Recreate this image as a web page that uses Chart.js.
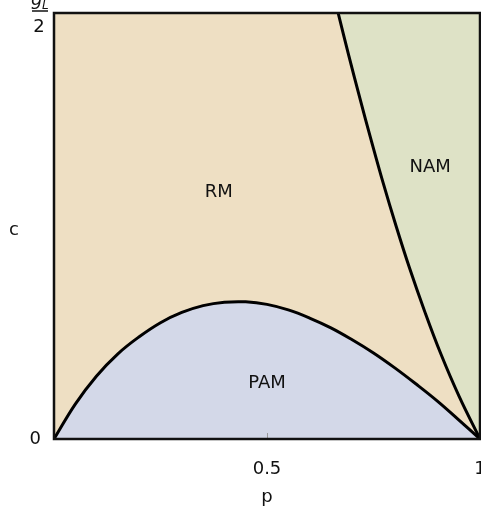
<!DOCTYPE html>
<html>
<head>
<meta charset="utf-8">
<script src="https://cdn.jsdelivr.net/npm/chart.js@4.4.0/dist/chart.umd.min.js"></script>
<style>
  html, body { margin: 0; padding: 0; background: #fff; }
  .chart-wrap { width: 481px; height: 518px; }
</style>
</head>
<body>
<div class="chart-wrap"><canvas id="chart"></canvas></div>
<script>
// boundary PAM / RM (hump)
const pamP = [0, 0.05, 0.1, 0.15, 0.2, 0.25, 0.3, 0.35, 0.4, 0.45, 0.5, 0.55, 0.6, 0.65, 0.7, 0.75, 0.8, 0.85, 0.9, 0.95, 1];
const pamC = [0, 0.082, 0.148, 0.2, 0.24, 0.273, 0.297, 0.313, 0.321, 0.322, 0.316, 0.303, 0.284, 0.261, 0.233, 0.202, 0.167, 0.129, 0.089, 0.045, 0];

// boundary RM / NAM
const namP = [0.667, 0.692, 0.718, 0.745, 0.773, 0.803, 0.835, 0.87, 0.908, 0.951, 1];
const namC = [1, 0.9, 0.8, 0.7, 0.6, 0.5, 0.4, 0.3, 0.2, 0.1, 0];

const xTicks = [0, 0.5, 1];
const xTickLabels = ['', '0.5', '1'];
const yTicks = [0, 1];
const yTickLabels = ['0', '']; // top one is the fraction gL/2, drawn below

const regionNames = ['RM', 'NAM', 'PAM'];
const regionP = [0.387, 0.883, 0.5];
const regionC = [0.58, 0.638, 0.131];

const FONT = "'DejaVu Sans', sans-serif";
const SIZE = 18;
const TEXT = '#111';

const toPoints = (xs, ys) => xs.map((x, i) => ({ x: x, y: ys[i] }));

const diagramPlugin = {
  id: 'diagram',
  beforeDatasetsDraw(chart) {
    const { ctx, chartArea: a } = chart;
    ctx.save();
    ctx.fillStyle = '#eedfc3'; // RM background
    ctx.fillRect(a.left, a.top, a.right - a.left, a.bottom - a.top);
    ctx.restore();
  },
  afterDatasetsDraw(chart) {
    const { ctx, chartArea: a, scales } = chart;
    ctx.save();
    // small inner tick at 0.5
    const tx = scales.x.getPixelForValue(0.5);
    ctx.strokeStyle = '#999';
    ctx.lineWidth = 1;
    ctx.beginPath();
    ctx.moveTo(tx + 0.5, a.bottom);
    ctx.lineTo(tx + 0.5, a.bottom - 6);
    ctx.stroke();

    // frame
    ctx.strokeStyle = '#111';
    ctx.lineWidth = 2.5;
    ctx.strokeRect(a.left, a.top, a.right - a.left, a.bottom - a.top);

    // region names
    ctx.fillStyle = TEXT;
    ctx.font = SIZE + 'px ' + FONT;
    ctx.textAlign = 'center';
    ctx.textBaseline = 'middle';
    regionNames.forEach((name, i) => {
      ctx.fillText(name, scales.x.getPixelForValue(regionP[i]), scales.y.getPixelForValue(regionC[i]));
    });

    // y title, upright
    ctx.fillText('c', 14, (a.top + a.bottom) / 2 + 4);

    // top y label: gL / 2
    const yTop = scales.y.getPixelForValue(1);
    ctx.font = 'italic ' + SIZE + 'px ' + FONT;
    ctx.textAlign = 'left';
    ctx.textBaseline = 'alphabetic';
    ctx.fillText('g', 31, yTop - 8);
    ctx.font = 'italic 12px ' + FONT;
    ctx.fillText('L', 42, yTop - 4);
    ctx.strokeStyle = TEXT;
    ctx.lineWidth = 1.5;
    ctx.beginPath();
    ctx.moveTo(32, yTop - 2);
    ctx.lineTo(48, yTop - 2);
    ctx.stroke();
    ctx.font = SIZE + 'px ' + FONT;
    ctx.textAlign = 'center';
    ctx.textBaseline = 'middle';
    ctx.fillText('2', 39, yTop + 14);
    ctx.restore();
  }
};

new Chart(document.getElementById('chart'), {
  type: 'scatter',
  data: {
    datasets: [
      {
        label: 'NAM',
        data: toPoints(namP, namC),
        showLine: true,
        fill: 'end',
        backgroundColor: '#dee2c6',
        borderColor: '#000',
        borderWidth: 3,
        pointRadius: 0,
        tension: 0.4
      },
      {
        label: 'PAM',
        data: toPoints(pamP, pamC),
        showLine: true,
        fill: 'origin',
        backgroundColor: '#d3d8e8',
        borderColor: '#000',
        borderWidth: 3,
        pointRadius: 0,
        tension: 0.4
      }
    ]
  },
  options: {
    responsive: true,
    maintainAspectRatio: false,
    animation: false,
    layout: { padding: { top: 13, right: 1, left: 0, bottom: 0 } },
    plugins: { legend: { display: false }, tooltip: { enabled: false } },
    scales: {
      x: {
        type: 'linear',
        min: 0,
        max: 1,
        grid: { display: false },
        border: { display: false },
        afterBuildTicks: s => { s.ticks = xTicks.map(v => ({ value: v })); },
        afterFit: s => { s.height = 79; s.paddingLeft = 0; s.paddingRight = 0; },
        ticks: {
          maxRotation: 0,
          padding: 12,
          color: TEXT,
          font: { family: FONT, size: SIZE },
          callback: v => xTickLabels[xTicks.indexOf(v)]
        },
        title: {
          display: true,
          text: 'p',
          color: TEXT,
          font: { family: FONT, size: SIZE },
          padding: { top: 0, bottom: 10 }
        }
      },
      y: {
        type: 'linear',
        min: 0,
        max: 1,
        grid: { display: false },
        border: { display: false },
        afterBuildTicks: s => { s.ticks = yTicks.map(v => ({ value: v })); },
        afterFit: s => { s.width = 54; s.paddingTop = 0; s.paddingBottom = 0; },
        ticks: {
          padding: 5,
          color: TEXT,
          font: { family: FONT, size: SIZE },
          callback: v => yTickLabels[yTicks.indexOf(v)]
        }
      }
    }
  },
  plugins: [diagramPlugin]
});
</script>
</body>
</html>
